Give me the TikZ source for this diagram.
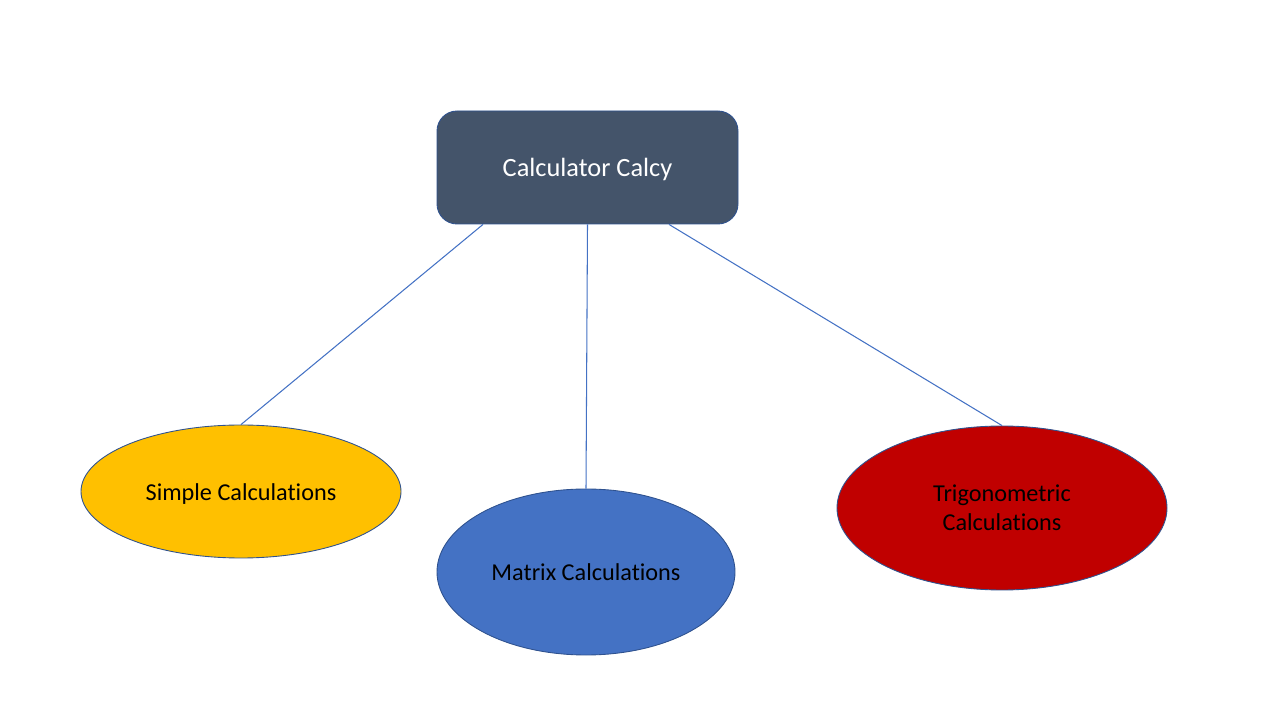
\documentclass[tikz,border=0pt]{standalone}
\usepackage{fontspec}
\setmainfont{Carlito}[Ligatures=NoCommon]
\usetikzlibrary{shapes.geometric}
\definecolor{rootfill}{HTML}{44546A}
\definecolor{simplefill}{HTML}{FFC000}
\definecolor{matrixfill}{HTML}{4472C4}
\definecolor{trigfill}{HTML}{C00000}
\definecolor{edgeblue}{HTML}{2F528F}
\definecolor{linkblue}{HTML}{4472C4}
\tikzset{
  branch/.style={ellipse,draw=edgeblue,line width=0.5pt,inner sep=0pt,align=center,
    font=\fontsize{13.8}{16.5}\selectfont},
  link/.style={draw=linkblue,line width=0.6pt}
}
\begin{document}
\begin{tikzpicture}
\useasboundingbox (0,0) rectangle (25.6,14.4);

\node[draw=edgeblue,fill=rootfill,rounded corners=0.4cm,line width=0.5pt,
  minimum width=6.02cm,minimum height=2.26cm,text=white,text height=0.46cm,text depth=0.1cm,
  font=\fontsize{15}{18}\selectfont] (root) at (11.75,11.05) {Calculator Calcy};

\node[branch,fill=simplefill,minimum width=6.4cm,minimum height=2.66cm,text height=0.44cm,text depth=0.09cm] (simple) at (4.82,4.57) {Simple Calculations};
\node[branch,fill=matrixfill,minimum width=5.96cm,minimum height=3.32cm] (matrix) at (11.72,2.96) {Matrix Calculations};
\node[branch,fill=trigfill,minimum width=6.6cm,minimum height=3.28cm] (trig) at (20.04,4.24) {Trigonometric\\Calculations};

\draw[link] ([xshift=-2.09cm]root.south) -- (simple.north);
\draw[link] (root.south) -- (matrix.north);
\draw[link] ([xshift=1.63cm]root.south) -- (trig.north);
\end{tikzpicture}
\end{document}
